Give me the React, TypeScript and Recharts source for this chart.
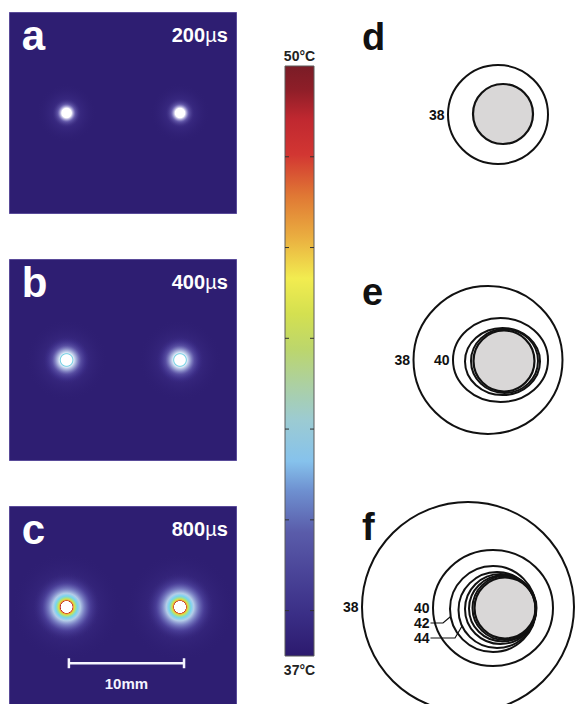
import React from "react";
import {
  ScatterChart,
  Scatter,
  XAxis,
  YAxis,
  ZAxis,
  ReferenceArea,
  ReferenceLine,
  BarChart,
  Bar,
} from "recharts";

const FONT = '"Liberation Sans", Arial, Helvetica, sans-serif';
const BG = "#2e1e72";

// heat maps a-c (units: mm)
const HEAT_LETTERS = ["a", "b", "c"];
const HEAT_TIMES = [200, 400, 800]; // µs
const ELECTRODE_X = [-4.9, 4.95];
const ELECTRODE_Y = 0;
const GLOW_R = [1.3, 2.1, 3.0];
const HAZE_R = [2.6, 3.6, 4.8];
const SCALE_BAR_X = [-4.7, 5.3];
const SCALE_BAR_Y = -4.9;
const SCALE_BAR_LABEL = "10mm";

// colour bar (°C)
const T_MIN = 37;
const T_MAX = 50;
const T_TICKS = [38, 40, 42, 44, 46, 48];

// isotherms d-f (units: mm, electrode at origin)
const CONTOUR_LETTERS = ["d", "e", "f"];
const DISK_R = [3.0, 3.05, 3.05];
const DISK_X = [-0.1, 0, 0.1];
const D_RINGS = [{ level: 38, x: -0.6, y: -0.05, rx: 5.0, ry: 4.95 }];
const E_RINGS = [
  { level: 38, x: -1.6, y: 0.1, rx: 7.45, ry: 7.4 },
  { level: 40, x: -0.35, y: 0.1, rx: 4.75, ry: 4.2 },
  { level: 42, x: -0.15, y: -0.05, rx: 3.75, ry: 3.35 },
  { level: 44, x: 0.05, y: 0, rx: 3.35, ry: 3.2 },
];
const F_RINGS = [
  { level: 38, x: -3.6, y: 0.1, rx: 10.6, ry: 10.5 },
  { level: 40, x: -1.1, y: 0, rx: 6.0, ry: 5.8 },
  { level: 42, x: -1.1, y: -0.1, rx: 4.3, ry: 4.3 },
  { level: 44, x: -0.7, y: -0.2, rx: 3.85, ry: 3.8 },
  { level: 46, x: -0.35, y: -0.1, rx: 3.55, ry: 3.5 },
  { level: 48, x: -0.15, y: -0.05, rx: 3.35, ry: 3.3 },
  { level: 50, x: 0.05, y: 0, rx: 3.2, ry: 3.2 },
];
const D_EDGE_LABELS = [38];
const E_EDGE_LABELS = [38, 40];
const F_EDGE_LABELS = [38, 40];
const F_LEADER_LABELS = [42, 44];

// ---- layout
const HEAT_W = 228;
const HEAT_H = 202;
const HX: [number, number] = [-9.9, 9.9];
const HY: [number, number] = [-8.8, 8.8];
const MM_PX = HEAT_W / (HX[1] - HX[0]);
const HEAT_TOPS = [12, 259, 506];

const CONTOUR_W = 239;
const CONTOUR_H = 230;
const CX: [number, number] = [-16.4, 7.5];
const CY: [number, number] = [-11.5, 11.5];
const UNIT_PX = CONTOUR_W / (CX[1] - CX[0]);
const CONTOUR_TOPS = [-1, 246, 493];
const CONTOUR_LETTER_Y = [6.4, 5.6, 6.8];

const GLOW_STOPS: [number, string, number][][] = [
  [
    [0, "#ffffff", 1],
    [0.32, "#ffffff", 1],
    [0.4, "#e4e4fa", 0.8],
    [0.6, "#9c98e0", 0.35],
    [1, BG, 0],
  ],
  [
    [0, "#ffffff", 1],
    [0.22, "#ffffff", 1],
    [0.26, "#74d0e4", 1],
    [0.3, "#e4f4fc", 0.95],
    [0.42, "#c4d4f4", 0.7],
    [0.6, "#8a8ad8", 0.35],
    [0.8, "#5a50b8", 0.15],
    [1, BG, 0],
  ],
  [
    [0, "#ffffff", 1],
    [0.165, "#ffffff", 1],
    [0.18, "#c02020", 1],
    [0.2, "#eaa838", 1],
    [0.23, "#d8e048", 1],
    [0.27, "#98e0a0", 1],
    [0.32, "#78d4f0", 1],
    [0.4, "#c8e8f8", 0.85],
    [0.52, "#a4b8ee", 0.6],
    [0.7, "#6e6ac8", 0.3],
    [1, BG, 0],
  ],
];

const JET_STOPS: [number, string][] = [
  [0, "#7a1c26"],
  [0.04, "#8e1e28"],
  [0.09, "#c02830"],
  [0.15, "#d23632"],
  [0.22, "#e07834"],
  [0.29, "#eaae40"],
  [0.36, "#f2ec50"],
  [0.42, "#d4e050"],
  [0.48, "#bcd66c"],
  [0.54, "#acd0a2"],
  [0.6, "#9ccbd2"],
  [0.67, "#86c2ec"],
  [0.72, "#6e90d0"],
  [0.79, "#5a5caa"],
  [0.86, "#4a4498"],
  [0.93, "#3a2e86"],
  [1, "#2c1a6e"],
];

const NO_MARGIN = { top: 0, right: 0, bottom: 0, left: 0 };

const discShape = (fill: string) => (p: any) => {
  const r = p.width ? p.width / 2 : Math.sqrt(p.size / Math.PI);
  return <circle cx={p.cx} cy={p.cy} r={r} fill={fill} />;
};

const ellipseShape = (fill: string, sw: number) => (p: any) => {
  const rx = p.width ? p.width / 2 : Math.sqrt(p.size / Math.PI);
  const ry = rx * (p.payload.ry / p.payload.rx);
  return (
    <ellipse cx={p.cx} cy={p.cy} rx={rx} ry={ry} fill={fill} stroke="#111" strokeWidth={sw} />
  );
};

const textShape = (style: any) => (p: any) => (
  <text x={p.cx} y={p.cy} fontFamily={FONT} fontWeight="bold" {...style}>
    {p.payload.text}
    {p.payload.unit ? <tspan fontWeight="normal">{p.payload.unit}</tspan> : null}
    {p.payload.suffix ?? null}
  </text>
);

const hidden = () => <g />;

function HeatPanel({ i }: { i: number }) {
  const spots = ELECTRODE_X.map((x) => ({ x, y: ELECTRODE_Y, z: GLOW_R[i] ** 2 }));
  const haze = ELECTRODE_X.map((x) => ({ x, y: ELECTRODE_Y, z: HAZE_R[i] ** 2 }));
  const letter = [{ x: HX[0] + 1.1, y: 5.5, text: HEAT_LETTERS[i] }];
  const time = [{ x: HX[1] - 0.8, y: 6.2, text: String(HEAT_TIMES[i]), unit: "\u00b5", suffix: "s" }];
  const bar = SCALE_BAR_X.map((x) => ({ x, y: SCALE_BAR_Y }));
  const barLabel = [
    { x: (SCALE_BAR_X[0] + SCALE_BAR_X[1]) / 2, y: SCALE_BAR_Y - 1.75, text: SCALE_BAR_LABEL },
  ];
  return (
    <div style={{ position: "absolute", left: 9, top: HEAT_TOPS[i] }}>
      <ScatterChart width={HEAT_W} height={HEAT_H} margin={NO_MARGIN}>
        <defs>
          <radialGradient id={`glow${i}`}>
            {GLOW_STOPS[i].map(([o, c, a], k) => (
              <stop key={k} offset={o} stopColor={c} stopOpacity={a} />
            ))}
          </radialGradient>
          <radialGradient id={`haze${i}`}>
            <stop offset={0} stopColor="#8a80d8" stopOpacity={0.35} />
            <stop offset={0.5} stopColor="#5a4cb0" stopOpacity={0.18} />
            <stop offset={1} stopColor={BG} stopOpacity={0} />
          </radialGradient>
        </defs>
        <XAxis type="number" dataKey="x" domain={HX} hide />
        <YAxis type="number" dataKey="y" domain={HY} hide />
        <ZAxis type="number" dataKey="z" domain={[0, 100]} range={[0, Math.PI * (10 * MM_PX) ** 2]} />
        <ReferenceArea
          x1={HX[0]}
          x2={HX[1]}
          y1={HY[0]}
          y2={HY[1]}
          fill={BG}
          fillOpacity={1}
          stroke="#8578c0"
          strokeWidth={1}
        />
        <Scatter data={haze} shape={discShape(`url(#haze${i})`)} isAnimationActive={false} />
        <Scatter data={spots} shape={discShape(`url(#glow${i})`)} isAnimationActive={false} />
        <Scatter
          data={letter}
          shape={textShape({ fill: "#fff", fontSize: 42 })}
          isAnimationActive={false}
        />
        <Scatter
          data={time}
          shape={textShape({ fill: "#fff", fontSize: 20, textAnchor: "end" })}
          isAnimationActive={false}
        />
        {i === 2 && (
          <Scatter
            data={bar}
            fill="#fff"
            line={{ stroke: "#f4f4ff", strokeWidth: 2.5 }}
            shape={(p: any) => (
              <line x1={p.cx} x2={p.cx} y1={p.cy - 5} y2={p.cy + 5} stroke="#f4f4ff" strokeWidth={2.5} />
            )}
            isAnimationActive={false}
          />
        )}
        {i === 2 && (
          <Scatter
            data={barLabel}
            shape={textShape({ fill: "#f4f4ff", fontSize: 15, textAnchor: "middle", dominantBaseline: "central" })}
            isAnimationActive={false}
          />
        )}
      </ScatterChart>
    </div>
  );
}

function ColorBar() {
  const data = [{ name: "T", t: [T_MIN, T_MAX] }];
  const labelStyle = { fill: "#222", fontSize: 14, fontWeight: "bold", fontFamily: FONT };
  return (
    <div style={{ position: "absolute", left: 262, top: 44 }}>
      <BarChart
        width={60}
        height={642}
        data={data}
        margin={{ top: 22, right: 8, bottom: 30, left: 23 }}
        barCategoryGap={0}
      >
        <defs>
          <linearGradient id="jet" x1="0" y1="0" x2="0" y2="1">
            {JET_STOPS.map(([o, c], k) => (
              <stop key={k} offset={o} stopColor={c} />
            ))}
          </linearGradient>
        </defs>
        <XAxis dataKey="name" hide />
        <YAxis type="number" domain={[T_MIN, T_MAX]} hide />
        <Bar dataKey="t" fill="url(#jet)" stroke="#5a5a5a" strokeWidth={1} isAnimationActive={false} />
        {T_TICKS.map((t) => (
          <ReferenceLine key={t} y={t} stroke="#333" strokeWidth={1} strokeDasharray="4 21 4" />
        ))}
        <ReferenceLine
          y={T_MAX}
          stroke="none"
          label={{ value: `${T_MAX}\u00b0C`, position: "top", offset: 5, ...labelStyle }}
        />
        <ReferenceLine
          y={T_MIN}
          stroke="none"
          label={{ value: `${T_MIN}\u00b0C`, position: "bottom", offset: 9, ...labelStyle }}
        />
      </BarChart>
    </div>
  );
}

type Ring = { level: number; x: number; y: number; rx: number; ry: number };

function ContourPanel({
  i,
  rings,
  edgeLabels,
  leaderLabels = [],
}: {
  i: number;
  rings: Ring[];
  edgeLabels: number[];
  leaderLabels?: number[];
}) {
  const ringData = rings.map((r) => ({ ...r, z: r.rx ** 2 }));
  const disk = [{ x: DISK_X[i], y: 0, rx: DISK_R[i], ry: DISK_R[i], z: DISK_R[i] ** 2 }];
  const labels = rings
    .filter((r) => edgeLabels.includes(r.level))
    .map((r) => ({ x: r.x - r.rx - 0.35, y: r.y, text: String(r.level) }));

  // stacked labels under the "40" label, joined to their ring by a leader line
  const base = labels.length ? labels[labels.length - 1] : { x: 0, y: 0 };
  const leaderAngles = [190, 205];
  const leaderKnees = [-6.1, -4.9];
  const leaders = leaderLabels.map((lvl, k) => {
    const r = rings.find((q) => q.level === lvl)!;
    const y = base.y - 1.5 * (k + 1);
    const a = (leaderAngles[k] * Math.PI) / 180;
    return {
      label: { x: base.x, y, text: String(lvl) },
      path: [
        { x: base.x + 0.1, y },
        { x: leaderKnees[k], y },
        { x: r.x + r.rx * Math.cos(a), y: r.y + r.ry * Math.sin(a) },
      ],
    };
  });

  const letter = [{ x: CX[0] + 2.2, y: CONTOUR_LETTER_Y[i], text: CONTOUR_LETTERS[i] }];
  const labelStyle = { fill: "#111", fontSize: 14, textAnchor: "end", dominantBaseline: "central" };

  return (
    <div style={{ position: "absolute", left: 340, top: CONTOUR_TOPS[i] }}>
      <ScatterChart width={CONTOUR_W} height={CONTOUR_H} margin={NO_MARGIN}>
        <XAxis type="number" dataKey="x" domain={CX} hide />
        <YAxis type="number" dataKey="y" domain={CY} hide />
        <ZAxis type="number" dataKey="z" domain={[0, 400]} range={[0, Math.PI * (20 * UNIT_PX) ** 2]} />
        <Scatter data={disk} shape={ellipseShape("#d9d7d7", 2.2)} isAnimationActive={false} />
        <Scatter data={ringData} shape={ellipseShape("none", 2)} isAnimationActive={false} />
        <Scatter data={labels} shape={textShape(labelStyle)} isAnimationActive={false} />
        {leaders.map((l, k) => (
          <Scatter
            key={`lp${k}`}
            data={l.path}
            fill="#111"
            line={{ stroke: "#111", strokeWidth: 1.2 }}
            shape={hidden}
            isAnimationActive={false}
          />
        ))}
        <Scatter data={leaders.map((l) => l.label)} shape={textShape(labelStyle)} isAnimationActive={false} />
        <Scatter
          data={letter}
          shape={textShape({ fill: "#111", fontSize: 38 })}
          isAnimationActive={false}
        />
      </ScatterChart>
    </div>
  );
}

export default function App() {
  return (
    <div
      style={{
        position: "absolute",
        left: 0,
        top: 0,
        width: 579,
        height: 704,
        overflow: "hidden",
        background: "#fff",
        fontFamily: FONT,
      }}
    >
      {HEAT_LETTERS.map((_, i) => (
        <HeatPanel key={i} i={i} />
      ))}
      <ColorBar />
      <ContourPanel i={0} rings={D_RINGS} edgeLabels={D_EDGE_LABELS} />
      <ContourPanel i={1} rings={E_RINGS} edgeLabels={E_EDGE_LABELS} />
      <ContourPanel i={2} rings={F_RINGS} edgeLabels={F_EDGE_LABELS} leaderLabels={F_LEADER_LABELS} />
    </div>
  );
}
